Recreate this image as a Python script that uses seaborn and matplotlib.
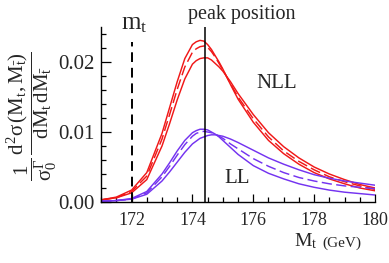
import numpy as np
import pandas as pd
import matplotlib
matplotlib.use("Agg")
import matplotlib.pyplot as plt
import matplotlib.ticker as ticker
import seaborn as sns

# top-mass values (GeV) at which the curves were read
mt = [171.0, 171.5, 172.0, 172.5, 173.0, 173.25, 173.5, 173.75, 174.0, 174.125,
      174.25, 174.375, 174.5, 174.625, 174.75, 174.875, 175.0, 175.25, 175.5, 176.0,
      176.5, 177.0, 177.5, 178.0, 178.5, 179.0, 179.5, 180.0]

# NLL band (red)
nll_a = [0.0003, 0.0007, 0.0017, 0.0042, 0.0098, 0.0135, 0.0172, 0.0205, 0.0225, 0.0229,
         0.0231, 0.0230, 0.0225, 0.0218, 0.0209, 0.0200, 0.0190, 0.0168, 0.0147, 0.0114,
         0.0088, 0.0069, 0.0054, 0.0042, 0.0033, 0.0026, 0.0020, 0.0016]
nll_dash = [0.0003, 0.0006, 0.0015, 0.0037, 0.0090, 0.0125, 0.0161, 0.0193, 0.0214, 0.0219,
            0.0222, 0.0223, 0.0221, 0.0215, 0.0207, 0.0198, 0.0189, 0.0169, 0.0150, 0.0119,
            0.0093, 0.0073, 0.0058, 0.0046, 0.0036, 0.0029, 0.0023, 0.0018]
nll_b = [0.0003, 0.0006, 0.0013, 0.0032, 0.0080, 0.0112, 0.0146, 0.0176, 0.0197, 0.0202,
         0.0205, 0.0206, 0.0206, 0.0203, 0.0198, 0.0193, 0.0187, 0.0172, 0.0155, 0.0125,
         0.0099, 0.0079, 0.0063, 0.0050, 0.0040, 0.0032, 0.0025, 0.0020]

# LL band (purple)
ll_a = [0.0001, 0.0002, 0.0005, 0.0015, 0.0040, 0.0056, 0.0073, 0.0088, 0.0099, 0.0102,
        0.0104, 0.0104, 0.0103, 0.0100, 0.0097, 0.0093, 0.0088, 0.0078, 0.0068, 0.0052,
        0.0041, 0.0033, 0.0026, 0.0021, 0.0017, 0.0014, 0.0012, 0.0010]
ll_dash = [0.0001, 0.0002, 0.0004, 0.0013, 0.0036, 0.0051, 0.0067, 0.0082, 0.0094, 0.0098,
           0.0100, 0.0101, 0.0100, 0.0099, 0.0097, 0.0094, 0.0091, 0.0083, 0.0076, 0.0062,
           0.0051, 0.0042, 0.0035, 0.0030, 0.0026, 0.0023, 0.0021, 0.0019]
ll_b = [0.0001, 0.0002, 0.0004, 0.0011, 0.0030, 0.0043, 0.0057, 0.0071, 0.0083, 0.0087,
        0.0091, 0.0093, 0.0095, 0.0096, 0.0096, 0.0095, 0.0094, 0.0090, 0.0085, 0.0074,
        0.0063, 0.0054, 0.0046, 0.0039, 0.0034, 0.0030, 0.0027, 0.0024]

m_top = 172.0
peak_pos = 174.4

sns.set_style("white")
plt.rcParams.update(
    {
        "font.family": ["Liberation Serif", "DejaVu Serif"],
        "mathtext.fontset": "custom",
        "mathtext.rm": "Liberation Serif",
        "mathtext.it": "Liberation Serif",
        "mathtext.bf": "Liberation Serif:bold",
    }
)

curves = {
    "nll_a": nll_a, "nll_dash": nll_dash, "nll_b": nll_b,
    "ll_a": ll_a, "ll_dash": ll_dash, "ll_b": ll_b,
}
df = pd.concat(
    [pd.DataFrame({"mt": mt, "val": v, "curve": k}) for k, v in curves.items()],
    ignore_index=True,
)

red = "#f01818"
purple = "#7433f0"
palette = {k: (red if k.startswith("nll") else purple) for k in curves}
dashes = {k: ((7, 3) if k.endswith("dash") else "") for k in curves}

fig = plt.figure(figsize=(3.89, 2.63), dpi=100)
ax = fig.add_axes([0.26, 0.232, 0.704, 0.665])

sns.lineplot(
    data=df, x="mt", y="val", hue="curve", style="curve",
    palette=palette, dashes=dashes, estimator=None, linewidth=1.05,
    legend=False, ax=ax,
)

ax.axvline(peak_pos, color="black", linewidth=1.1)
ax.plot([m_top, m_top], [0, 0.0229], color="black", linewidth=1.4, dashes=(5, 3))

ax.set_xlim(171, 180)
ax.set_ylim(0, 0.025)
ax.set_xlabel("")
ax.set_ylabel("")

sns.despine(ax=ax)
for s in ["left", "bottom"]:
    ax.spines[s].set_linewidth(1.0)
    ax.spines[s].set_color("black")

ax.xaxis.set_major_locator(ticker.MultipleLocator(2))
ax.xaxis.set_minor_locator(ticker.MultipleLocator(0.5))
ax.yaxis.set_major_locator(ticker.MultipleLocator(0.01))
ax.yaxis.set_minor_locator(ticker.MultipleLocator(0.002))
ax.yaxis.set_major_formatter(ticker.FormatStrFormatter("%.2f"))
ax.tick_params(which="both", direction="in", color="black", width=0.9,
               bottom=True, left=True, top=False, right=False)
ax.tick_params(axis="x", which="major", length=6, pad=7, labelsize=13)
ax.tick_params(axis="y", which="major", length=7, pad=5, labelsize=15)
ax.tick_params(which="minor", length=3.5)

ax.text(175.61, 0.0262, "peak position", ha="center", va="baseline", fontsize=14.5, clip_on=False)
ax.text(172.1, 0.0247, r"$\mathrm{m_t}$", ha="center", va="baseline", fontsize=18, clip_on=False)
ax.text(176.78, 0.0163, "NLL", ha="center", va="baseline", fontsize=15)
ax.text(175.48, 0.0027, "LL", ha="center", va="baseline", fontsize=15)

fig.text(0.785, 0.063, r"$\mathrm{M_t}$", ha="center", va="baseline", fontsize=14)
fig.text(0.88, 0.063, "(GeV)", ha="center", va="baseline", fontsize=11)

fig.text(
    0.08, 0.56,
    r"$\dfrac{1}{\sigma_0^{\Gamma}}\,\dfrac{\mathrm{d}^2\sigma\,(M_t,M_{\bar t})}{\mathrm{d}M_t\,\mathrm{d}M_{\bar t}}$",
    rotation=90, ha="center", va="center", fontsize=15,
)

fig.savefig("out.png", dpi=100, facecolor="white")
